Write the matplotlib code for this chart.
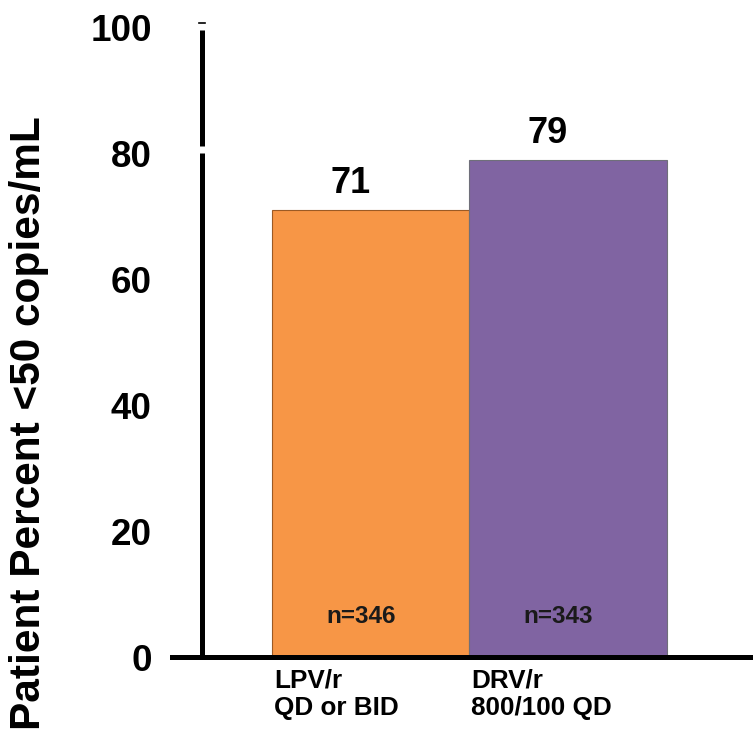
import numpy as np
import matplotlib.pyplot as plt

plt.rcParams['font.family'] = ['Liberation Sans', 'DejaVu Sans']
plt.rcParams['font.weight'] = 'bold'

# response rates by regimen
regimens = ['LPV/r\nQD or BID', 'DRV/r\n800/100 QD']
percent = [71, 79]
n_patients = [346, 343]
colors = ['#F79646', '#8064A2']
edges = ['#9c5a24', '#6f6f7a']
yticks = [0, 20, 40, 60, 80, 100]

fig = plt.figure(figsize=(7.53, 7.31), dpi=100)
ax = fig.add_axes([0.2284, 0.1012, 0.7716, 0.8605])

x = np.arange(len(regimens))
ax.bar(x, percent, width=1.0, color=colors, edgecolor=edges, linewidth=0.8, zorder=2)

for i in range(len(x)):
    ax.text(x[i] - 0.105, percent[i] + 2.7, str(percent[i]), ha='center', va='baseline',
            fontsize=26, fontweight='bold')
    ax.text(x[i] - 0.05, 5.4, 'n=%d' % n_patients[i], ha='center', va='baseline',
            fontsize=17.5, fontweight='bold', color='#1a1a1a')
    ax.text(x[i] - 0.5 + 0.01, -1.9, regimens[i], ha='left', va='top',
            fontsize=18.8, fontweight='bold', linespacing=1.15)

ax.set_xlim(-1.01, 1.939)
ax.set_ylim(0, 100)

# broken y axis drawn by hand, x axis from the bottom spine
yax = -0.86
ax.plot([yax, yax], [-0.3, 80.1], color='black', lw=3.6, solid_capstyle='butt', clip_on=False, zorder=3)
ax.plot([yax, yax], [81.2, 99.7], color='black', lw=3.6, solid_capstyle='butt', clip_on=False, zorder=3)
ax.plot([yax - 0.012, yax + 0.018], [100.8, 100.8], color='black', lw=1.2, clip_on=False)

for s in ['top', 'right', 'left']:
    ax.spines[s].set_visible(False)
ax.spines['bottom'].set_linewidth(3.6)
ax.spines['bottom'].set_zorder(4)

ax.set_xticks([])
ax.set_yticks(yticks)
ax.set_yticklabels([str(t) for t in yticks], fontsize=26.5, fontweight='bold')
ax.tick_params(axis='y', left=False, pad=11)

fig.text(0.038, 1 - 423 / 731, 'Patient Percent <50 copies/mL', rotation=90,
         ha='center', va='center', fontsize=30.5, fontweight='bold')

fig.savefig('out.png', dpi=100)
